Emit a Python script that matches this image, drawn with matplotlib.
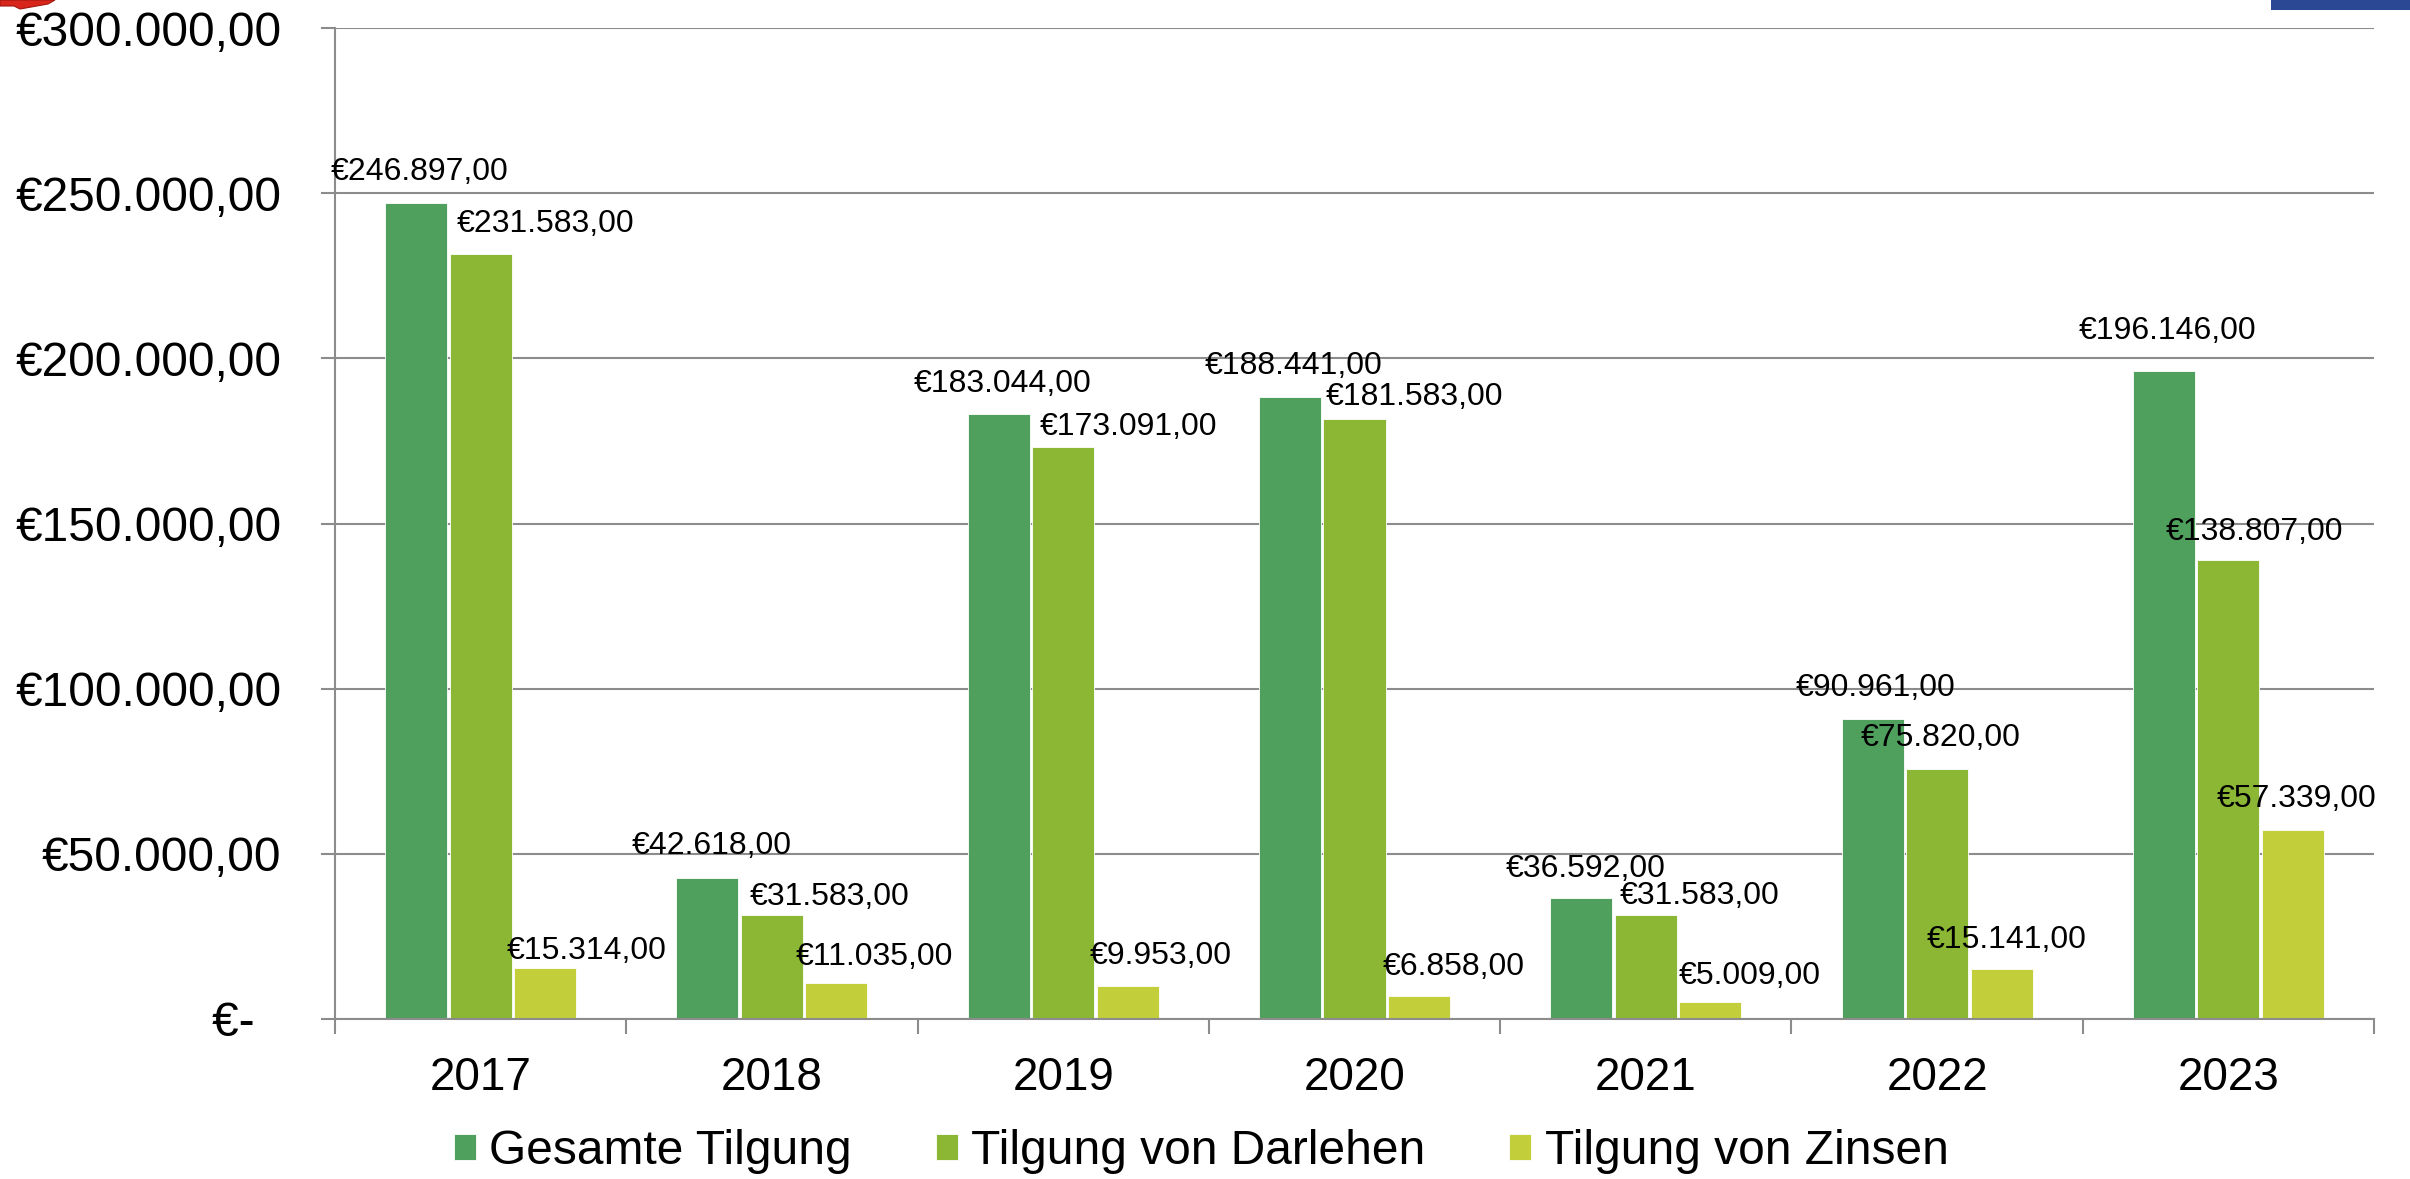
import matplotlib
matplotlib.use("Agg")
import matplotlib.pyplot as plt
from matplotlib.patches import Polygon, Rectangle
from matplotlib.ticker import FixedLocator, FuncFormatter
import numpy as np

# ==========================
# DATA
# ==========================

years = ["2017", "2018", "2019", "2020", "2021", "2022", "2023"]

gesamte_tilgung = [246897, 42618, 183044, 188441, 36592, 90961, 196146]
tilgung_darlehen = [231583, 31583, 173091, 181583, 31583, 75820, 138807]
tilgung_zinsen = [15314, 11035, 9953, 6858, 5009, 15141, 57339]

series_names = ["Gesamte Tilgung", "Tilgung von Darlehen", "Tilgung von Zinsen"]
y_ticks = [0, 50000, 100000, 150000, 200000, 250000, 300000]

# ==========================
# STYLE
# ==========================

COLORS = ["#4F9F5D", "#8BB734", "#C3CF3A"]
GRID = "#8C8C8C"
FONT = ["Liberation Sans", "DejaVu Sans"]

W, H = 2410, 1179

# label nudges (pixels, label centre relative to bar top centre)
LABEL_DX = [[3, 4, 4, 4, 4, 3, 4],
            [65, 58, 65, 60, 54, 4, 26],
            [41, 38, 33, 35, 39, 5, 4]]
LABEL_DY = [[31, 32, 30, 31, 29, 31, 40],
            [30, 18, 20, 22, 19, 31, 28],
            [17, 26, 30, 29, 26, 29, 31]]

plt.rcParams["font.family"] = FONT


def euro(v):
    if v == 0:
        return "€-  "
    s = f"{v:,.2f}"
    s = s.replace(",", "X").replace(".", ",").replace("X", ".")
    return "€" + s


# ==========================
# FIGURE
# ==========================

fig = plt.figure(figsize=(W / 100, H / 100), dpi=100)
ax = fig.add_axes([335 / W, 1 - 1019 / H, (2374 - 335) / W, (1019 - 28) / H])

x = np.arange(len(years))
pitch = 0.2215
width = 0.213
all_series = [gesamte_tilgung, tilgung_darlehen, tilgung_zinsen]

handles = []
for i, vals in enumerate(all_series):
    pos = x + (i - 1) * pitch
    b = ax.bar(pos, vals, width=width, color=COLORS[i],
               edgecolor="white", linewidth=0.6, label=series_names[i], zorder=3)
    handles.append(b)
    for j, v in enumerate(vals):
        ax.annotate(euro(v), (pos[j], v),
                    xytext=(LABEL_DX[i][j] * 0.72, LABEL_DY[i][j] * 0.72),
                    textcoords="offset points", ha="center", va="center",
                    fontsize=23, color="black", zorder=5)

# axes
ax.set_xlim(-0.5, len(years) - 0.5)
ax.set_ylim(0, 300000)

ax.yaxis.set_major_locator(FixedLocator(y_ticks))
ax.yaxis.set_major_formatter(FuncFormatter(lambda v, p: euro(v)))
ax.tick_params(axis="y", length=10, width=1.5, color=GRID, pad=28.5, labelsize=34.5)

ax.xaxis.set_major_locator(FixedLocator(np.arange(-0.5, len(years), 1.0)))
ax.xaxis.set_major_formatter(FuncFormatter(lambda v, p: ""))
ax.xaxis.set_minor_locator(FixedLocator(x))
ax.set_xticklabels(years, minor=True)
ax.tick_params(axis="x", which="major", length=11, width=1.5, color=GRID)
ax.tick_params(axis="x", which="minor", length=0, pad=27, labelsize=33)

ax.grid(axis="y", color=GRID, linewidth=1.5, zorder=0)
ax.set_axisbelow(True)

for side in ["top", "right"]:
    ax.spines[side].set_visible(False)
for side in ["left", "bottom"]:
    ax.spines[side].set_color(GRID)
    ax.spines[side].set_linewidth(1.5)
ax.spines["bottom"].set_zorder(4)

# legend
fig.legend(handles=handles, loc="center", bbox_to_anchor=(1201 / W, 1 - 1152 / H),
           ncol=3, frameon=False, fontsize=34.5, handlelength=0.46,
           handleheight=0.46, handletextpad=0.28, columnspacing=1.75,
           borderpad=0, borderaxespad=0)

# slide decorations cut at the edges
red = Polygon([(0 / W, 1), (55 / W, 1), (48 / W, 1 - 4 / H), (20 / W, 1 - 9 / H),
               (14 / W, 1 - 6 / H), (0 / W, 1 - 6 / H)],
              closed=True, transform=fig.transFigure, facecolor="#D9261C",
              edgecolor="#A01810", linewidth=0.8)
fig.patches.append(red)
blue = Rectangle((2271 / W, 1 - 10 / H), (W - 2271) / W, 10 / H,
                 transform=fig.transFigure, facecolor="#2A4894", edgecolor="none")
fig.patches.append(blue)

fig.savefig("out.png", dpi=100)
plt.close(fig)
